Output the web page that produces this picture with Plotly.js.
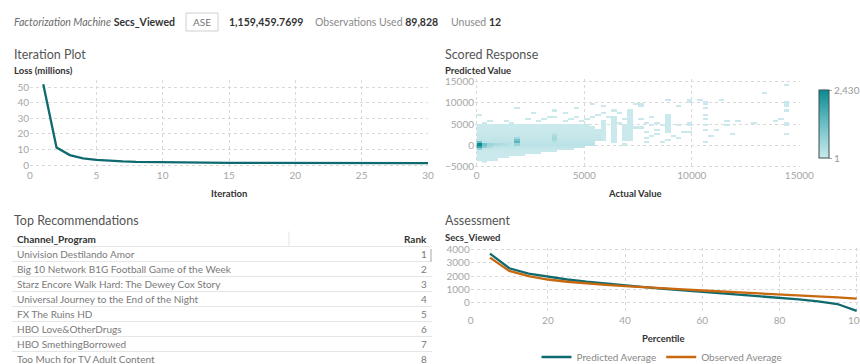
<!DOCTYPE html>
<html><head><meta charset="utf-8">
<script src="https://cdn.plot.ly/plotly-3.0.1.min.js"></script>
<style>html,body{margin:0;padding:0;background:#fff;}#chart{width:860px;height:364px;}</style>
</head><body><div id="chart"></div>
<script>
// ---------------- DATA ----------------
const iterations = [1,2,3,4,5,6,7,8,9,10,11,12,13,14,15,16,17,18,19,20,21,22,23,24,25,26,27,28,29,30];
const lossMillions = [52.0,11.3,6.4,4.3,3.3,2.7,2.3,2.0,1.85,1.7,1.6,1.55,1.5,1.45,1.42,1.4,1.38,1.35,1.33,1.31,1.3,1.28,1.27,1.26,1.25,1.24,1.23,1.22,1.21,1.2];

const percentiles = [5,10,15,20,25,30,35,40,45,50,55,60,65,70,75,80,85,90,95,100];
const predictedAvg = [3700,2600,2200,1950,1750,1580,1430,1300,1170,1050,940,830,720,610,500,380,250,100,-100,-620];
const observedAvg  = [3400,2400,2000,1750,1580,1450,1340,1250,1150,1070,1000,920,850,780,720,650,580,500,400,300];

const programs = ["Univision Destilando Amor","Big 10 Network B1G Football Game of the Week","Starz Encore Walk Hard: The Dewey Cox Story","Universal Journey to the End of the Night","FX The Ruins HD","HBO Love&OtherDrugs","HBO SmethingBorrowed","Too Much for TV Adult Content"];
const ranks = [1,2,3,4,5,6,7,8];

// Scored response heat map (Actual vs Predicted, counts per bin)
const denseRowY     = [-3250,-2750,-2250,-1750,-1250,-750,-250,250,750,1250,1750,2250,2750,3250,3750,4250,4750];
const denseRowXEnd  = [900,1500,2250,3000,3750,4500,5000,5500,5500,5750,5750,5750,6000,6000,5750,5500,5250];
const denseRowCount = [4,8,12,20,35,70,150,200,150,110,80,60,45,35,25,15,10];
const hotX     = [125,125,125,125,375,375,625,875,625,1125,1375,1875,1875,1875,1875,3625,3625,3625,3625,3625];
const hotY     = [-250,250,750,-750,250,-250,250,250,-250,250,250,250,750,1250,1750,750,1250,1750,2250,2750];
const hotCount = [1800,2430,1200,700,1100,800,600,450,400,350,300,600,1400,1100,500,250,450,550,400,200];
const stripeX     = [5750,6250,6750,7125,8875];
const stripeYFrom = [1250,750,1250,1250,3250];
const stripeYTo   = [5750,6750,4750,8250,7250];
const stripeCount = [15,12,6,10,15];
const sparseX = [375,375,125,625,1375,1875,1625,2375,2625,2875,3125,3625,3625,3375,4125,4125,4375,4625,4625,4875,5125,5375,5375,5625,5875,5875,6125,6375,6625,6625,6875,7375,7375,
  7625,7625,7625,7625,7875,7875,7875,8125,8125,8125,8375,8375,8375,8625,8875,8875,9125,9375,9375,9375,9625,9875,9875,9875,9875,9875,10375,10625,10625,10625,10625,10625,10625,10625,10625,10875,11125,11375,11625,11625,12875,13375,13875,14375,14375,14375,14375,14375,14375,14375,14375,14125,12125,11875,8625,7875,6875];
const sparseY = [-3750,5250,7250,5750,5750,8750,5250,6250,7750,5750,6250,8250,6750,6750,7750,5750,6250,8750,6750,5750,6250,9750,6750,7250,9250,7750,6750,8250,7750,5250,6250,9750,4250,
  9750,9250,6250,4250,5250,3250,1750,6750,4750,2250,5250,3750,2750,4750,10750,1250,2250,9250,4750,1750,3250,10750,10250,5250,4750,3250,10750,10250,9750,8750,7250,6250,4750,3750,750,2250,3750,10750,5750,4750,5250,12250,5750,14250,10250,9750,9250,8250,5250,4750,2750,6250,5750,2750,750,750,250];
const sparseCount = [3,5,3,6,4,2,6,4,2,5,4,2,5,4,3,5,4,2,3,6,5,2,4,4,2,4,5,3,3,6,4,2,3,
  2,2,3,3,4,3,2,3,4,3,3,2,3,4,2,2,2,2,3,2,2,3,3,3,4,2,2,2,3,3,2,3,3,2,2,2,2,2,3,3,2,2,2,2,3,3,3,2,4,3,2,2,2,2,2,2,2];

const modelName = "Factorization Machine";
const targetName = "Secs_Viewed";
const statName = "ASE";
const statValue = "1,159,459.7699";
const obsUsedLabel = "Observations Used", obsUsed = "89,828";
const unusedLabel = "Unused", unused = "12";

// ---------------- BUILD HEATMAP GRID ----------------
const BW = 250, BH = 500, X0 = 0, Y0 = -4000, NX = 60, NY = 38;
const z = [];
for (let j = 0; j < NY; j++) { z.push(new Array(NX).fill(null)); }
function put(x, y, c) {
  const i = Math.floor((x - X0) / BW), j = Math.floor((y - Y0) / BH);
  if (i >= 0 && i < NX && j >= 0 && j < NY) z[j][i] = c;
}
denseRowY.forEach((y, r) => { for (let x = 125; x < denseRowXEnd[r]; x += BW) put(x, y, denseRowCount[r]); });
stripeX.forEach((x, s) => { for (let y = stripeYFrom[s]; y <= stripeYTo[s]; y += BH) put(x, y, stripeCount[s]); });
sparseX.forEach((x, k) => put(x, sparseY[k], sparseCount[k]));
hotX.forEach((x, k) => put(x, hotY[k], hotCount[k]));

// ---------------- LAYOUT HELPERS ----------------
const W = 860, H = 364;
const px = v => v / W, py = v => 1 - v / H;
const FONT = 'Lato, "Open Sans", sans-serif';
const TEAL = '#0f6a6f', ORANGE = '#c8680f';
const tickFont = {family: FONT, size: 10, color: '#a6a6a6'};
const gridStyle = {showgrid: true, gridcolor: '#d9d9d9', griddash: 'dot', gridwidth: 1, zeroline: false, showline: false, ticks: '', tickfont: tickFont, ticklabeloverflow: 'allow'};

const traces = [
  {type: 'scatter', mode: 'lines', x: iterations, y: lossMillions, xaxis: 'x', yaxis: 'y',
   line: {color: TEAL, width: 2.3}, showlegend: false, hoverinfo: 'skip'},
  {type: 'heatmap', z: z, x0: X0 + BW/2, dx: BW, y0: Y0 + BH/2, dy: BH, xaxis: 'x2', yaxis: 'y2',
   zmin: 1, zmax: 2430, zsmooth: false, hoverongaps: false,
   colorscale: [[0, '#cbe9ec'], [0.5, '#6bbfc5'], [1, '#0b8a92']],
   colorbar: {thickness: 10, thicknessmode: 'pixels', len: 68, lenmode: 'pixels',
     x: px(819), xanchor: 'left', y: py(124), yanchor: 'middle', xpad: 0, ypad: 0,
     outlinewidth: 1, outlinecolor: '#3d4f50', tickvals: [1, 2430], ticktext: ['1', '2,430'],
     ticks: 'outside', ticklen: 3, tickcolor: '#aaa', tickfont: {family: FONT, size: 10, color: '#999'}}},
  {type: 'scatter', mode: 'lines', name: 'Predicted Average', x: percentiles, y: predictedAvg, xaxis: 'x3', yaxis: 'y3',
   line: {color: TEAL, width: 2.3}},
  {type: 'scatter', mode: 'lines', name: 'Observed Average', x: percentiles, y: observedAvg, xaxis: 'x3', yaxis: 'y3',
   line: {color: ORANGE, width: 2.3}},
  {type: 'scatter', mode: 'markers', x: [0], y: [0], xaxis: 'x4', yaxis: 'y4', marker: {opacity: 0}, showlegend: false, hoverinfo: 'skip'}
];

const ann = [];
function txt(x, y, text, size, color, anchor) {
  ann.push({xref: 'paper', yref: 'paper', x: px(x), y: py(y), text: text, showarrow: false,
    xanchor: anchor || 'left', yanchor: 'middle', font: {family: FONT, size: size, color: color}});
}
// header line
txt(12, 22, '<i>' + modelName + '</i> <span style="color:#333"><b>' + targetName + '</b></span>', 10.5, '#6b6b6b');
txt(202, 22, statName, 10, '#777', 'center');
txt(227, 22, '<b>' + statValue + '</b>', 10.5, '#333');
txt(313, 22, obsUsedLabel + ' <span style="color:#333"><b>' + obsUsed + '</b></span>', 10.5, '#8a8a8a');
txt(449, 22, unusedLabel + ' <span style="color:#333"><b>' + unused + '</b></span>', 10.5, '#8a8a8a');
// panel titles
txt(12, 54, 'Iteration Plot', 12.5, '#555');
txt(443, 54, 'Scored Response', 12.5, '#555');
txt(12, 221, 'Top Recommendations', 12.5, '#555');
txt(443, 221, 'Assessment', 12.5, '#555');
// axis titles
txt(12, 70.5, '<b>Loss (millions)</b>', 9.5, '#333');
txt(229, 193, '<b>Iteration</b>', 9.5, '#333', 'center');
txt(443, 70, '<b>Predicted Value</b>', 9.5, '#333');
txt(635, 193, '<b>Actual Value</b>', 9.5, '#333', 'center');
txt(443, 237, '<b>Secs_Viewed</b>', 9.5, '#333');
txt(663, 338, '<b>Percentile</b>', 9.5, '#333', 'center');
// table text
function cell(x, y, text, size, color, anchor) {
  ann.push({xref: 'x4', yref: 'y4', x: x, y: y, text: text, showarrow: false, xanchor: anchor, yanchor: 'middle',
    font: {family: FONT, size: size, color: color}});
}
cell(3, 0, '<b>Channel_Program</b>', 10, '#333', 'left');
cell(417, 0, '<b>Rank</b>', 10, '#333', 'right');
programs.forEach((p, k) => {
  cell(3, ranks[k], p, 10, '#7a7a7a', 'left');
  cell(417, ranks[k], String(ranks[k]), 10, '#7a7a7a', 'right');
});

const shapes = [
  {type: 'rect', xref: 'paper', yref: 'paper', x0: px(186), x1: px(218), y0: py(31), y1: py(13), line: {color: '#cfcfcf', width: 1}, fillcolor: '#fff', layer: 'below'},
  {type: 'line', xref: 'x4', yref: 'y4', x0: 277, x1: 277, y0: -0.5, y1: 0.45, line: {color: '#e3e3e3', width: 1}},
  {type: 'line', xref: 'paper', yref: 'paper', x0: px(431), x1: px(431), y0: py(249), y1: py(262), line: {color: '#c4c4c4', width: 1.5}}
];

const layout = {
  width: W, height: H, margin: {l: 0, r: 0, t: 0, b: 0, pad: 0, autoexpand: false}, paper_bgcolor: '#fff', plot_bgcolor: 'rgba(0,0,0,0)',
  font: {family: FONT}, showlegend: true,
  xaxis: Object.assign({}, gridStyle, {domain: [px(30), px(428)], range: [0, 30], tickvals: [0,5,10,15,20,25,30], anchor: 'y'}),
  yaxis: Object.assign({}, gridStyle, {domain: [py(168), py(80)], range: [-1.9, 54.7], tickvals: [0,10,20,30,40,50], anchor: 'x'}),
  xaxis2: Object.assign({}, gridStyle, {domain: [px(475), px(800)], range: [-80, 15030], tickvals: [0,5000,10000,15000], tickformat: 'd', anchor: 'y2'}),
  yaxis2: Object.assign({}, gridStyle, {domain: [py(168), py(79)], range: [-5300, 15630], tickvals: [-5000,0,5000,10000,15000], tickformat: 'd', anchor: 'x2'}),
  xaxis3: Object.assign({}, gridStyle, {domain: [px(470.7), px(859)], range: [0, 100.6], tickvals: [0,20,40,60,80,100], anchor: 'y3'}),
  yaxis3: Object.assign({}, gridStyle, {domain: [py(313), py(248)], range: [-780, 4130], tickvals: [0,1000,2000,3000,4000], tickformat: 'd', anchor: 'x3'}),
  xaxis4: {domain: [px(12), px(432)], range: [0, 420], visible: false, fixedrange: true, anchor: 'y4'},
  yaxis4: {domain: [0, py(231)], range: [8.333, -0.533], showgrid: true, gridcolor: '#e6e6e6', gridwidth: 1,
           tickvals: [0.5,1.5,2.5,3.5,4.5,5.5,6.5,7.5,8.5], showticklabels: false, ticks: '', zeroline: false, showline: false, anchor: 'x4'},
  legend: {orientation: 'h', x: px(662), xanchor: 'center', y: py(357), yanchor: 'middle',
           font: {family: FONT, size: 10, color: '#888'}, bgcolor: 'rgba(0,0,0,0)', itemwidth: 30, tracegroupgap: 0},
  annotations: ann, shapes: shapes
};

Plotly.newPlot('chart', traces, layout, {displayModeBar: false, staticPlot: true});
</script></body></html>
